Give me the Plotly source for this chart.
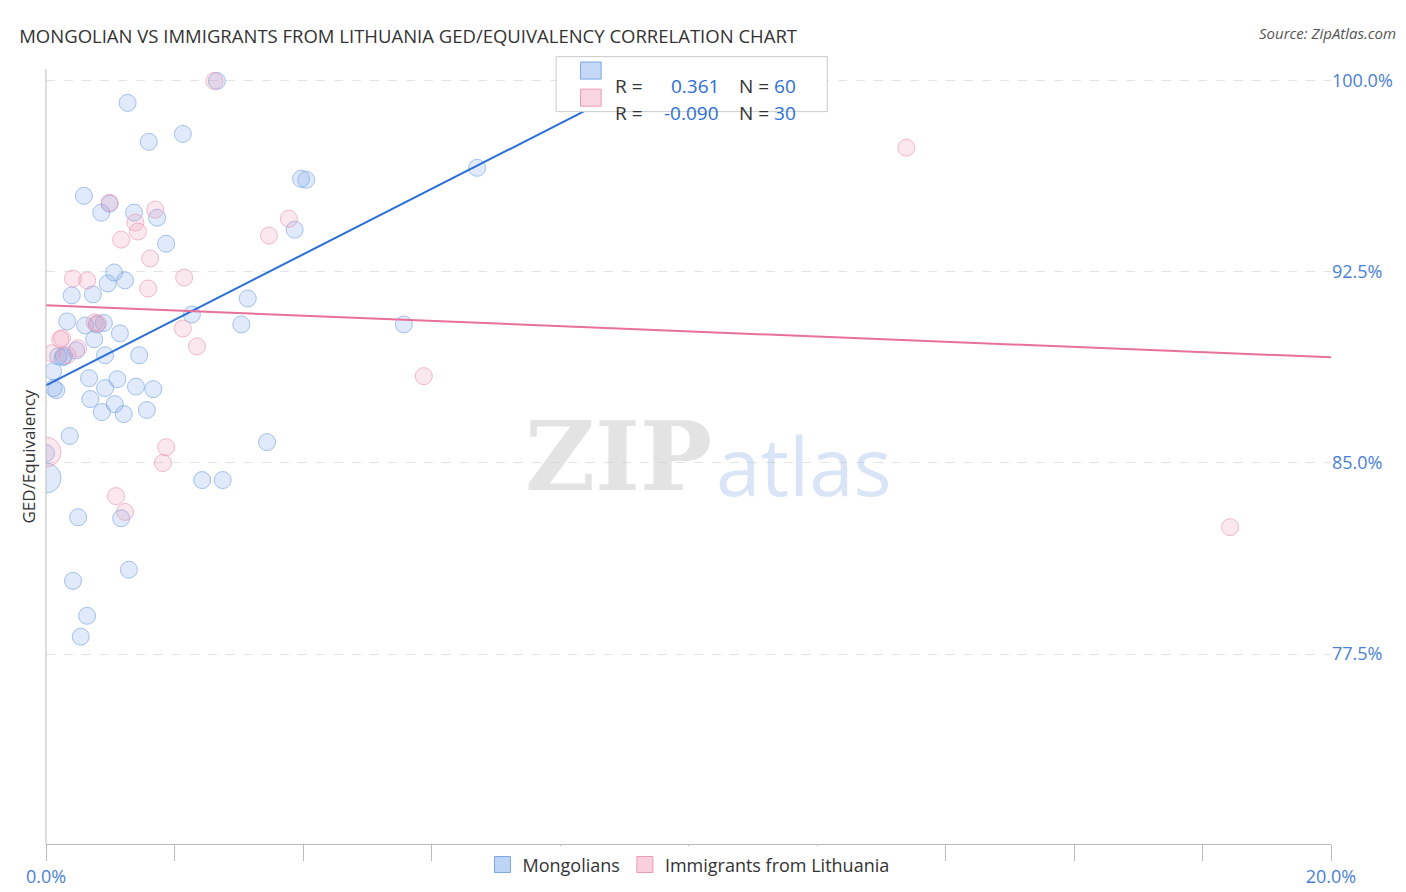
import plotly.graph_objects as go

# Mongolians (x = %, y = %)
mong_x = [1.27, 1.6, 2.13, 0.59, 0.99, 0.86, 1.37, 1.73, 1.87, 3.97, 4.05, 3.87, 6.71, 2.66,
          1.06, 1.23, 0.96, 0.40, 0.73, 3.14, 2.27, 3.04, 5.57, 0.33, 0.61, 0.79, 1.15, 0.75,
          0.19, 0.26, 0.47, 0.92, 1.45, 0.11, 0.67, 1.11, 0.12, 0.16, 0.92, 1.67, 0.69, 1.07,
          0.87, 1.21, 1.57, 0.37, 3.44, 0.0, 2.43, 2.75, 0.50, 1.17, 0.42, 1.29, 0.64, 0.54,
          0.0, 0.28, 0.9, 1.4]
mong_y = [99.14, 97.61, 97.92, 95.49, 95.18, 94.83, 94.83, 94.63, 93.61, 96.16, 96.12, 94.16,
          96.59, 100.0, 92.48, 92.17, 92.05, 91.58, 91.62, 91.46, 90.83, 90.44, 90.44, 90.56,
          90.40, 90.44, 90.09, 89.86, 89.19, 89.15, 89.42, 89.23, 89.23, 88.60, 88.33, 88.29,
          87.94, 87.86, 87.94, 87.90, 87.51, 87.31, 87.0, 86.92, 87.08, 86.06, 85.82, 84.41,
          84.33, 84.33, 82.87, 82.83, 80.37, 80.81, 79.00, 78.18, 85.39, 89.2, 90.5, 88.0]
mong_s = [17]*47 + [30] + [17]*12

# Immigrants from Lithuania
lith_x = [2.62, 13.39, 0.99, 1.70, 3.78, 1.39, 1.43, 1.17, 3.47, 1.62, 0.42, 0.64, 2.15,
          1.59, 2.13, 0.81, 0.25, 2.35, 0.50, 0.09, 0.33, 5.88, 0.0, 1.87, 1.82, 1.09,
          1.23, 18.43, 0.76, 0.22]
lith_y = [100.0, 97.38, 95.22, 94.95, 94.59, 94.44, 94.09, 93.77, 93.93, 93.03, 92.24, 92.17,
          92.28, 91.85, 90.28, 90.48, 89.90, 89.58, 89.50, 89.31, 89.23, 88.41, 85.43, 85.62,
          85.00, 83.70, 83.08, 82.48, 90.52, 89.86]
lith_s = [17]*22 + [30] + [17]*7

blue_line_x = [0.0, 8.6]
blue_line_y = [88.05, 99.1]
pink_line_x = [0.0, 20.0]
pink_line_y = [91.19, 89.15]

y_ticks = [77.5, 85.0, 92.5, 100.0]
y_labels = ["77.5%", "85.0%", "92.5%", "100.0%"]

BLUE = "#2b6fd6"
PINK = "#e8709a"
TICKC = "#4a7fd6"

fig = go.Figure()
fig.add_trace(go.Scatter(x=mong_x, y=mong_y, mode="markers", showlegend=False,
                         marker=dict(size=mong_s, color="rgba(110,160,235,0.3)",
                                     line=dict(color="#7aa6e6", width=1))))
fig.add_trace(go.Scatter(x=lith_x, y=lith_y, mode="markers", showlegend=False,
                         marker=dict(size=lith_s, color="rgba(240,150,180,0.3)",
                                     line=dict(color="#eb9ab5", width=1))))
fig.add_trace(go.Scatter(x=blue_line_x, y=blue_line_y, mode="lines", showlegend=False,
                         line=dict(color=BLUE, width=2)))
fig.add_trace(go.Scatter(x=pink_line_x, y=pink_line_y, mode="lines", showlegend=False,
                         line=dict(color=PINK, width=2)))
# legend entries (square swatches)
fig.add_trace(go.Scatter(x=[None], y=[None], mode="markers", name="Mongolians",
                         marker=dict(symbol="square", size=20, color="rgba(110,160,235,0.45)",
                                     line=dict(color="#7aa6e6", width=1))))
fig.add_trace(go.Scatter(x=[None], y=[None], mode="markers", name="Immigrants from Lithuania",
                         marker=dict(symbol="square", size=20, color="rgba(240,150,180,0.45)",
                                     line=dict(color="#eb9ab5", width=1))))

fig.update_layout(
    width=1406, height=892, plot_bgcolor="white", paper_bgcolor="white",
    margin=dict(l=38, r=83, t=61, b=44),
    font=dict(family="Open Sans, Arial, sans-serif"),
    showlegend=True,
    legend=dict(orientation="h", x=0.5, xanchor="center", y=-0.003, yanchor="top",
                font=dict(size=18, color="#333")),
    title=dict(text="MONGOLIAN VS IMMIGRANTS FROM LITHUANIA GED/EQUIVALENCY CORRELATION CHART",
               x=0.008, xanchor="left", y=0.975, font=dict(size=18.5, color="#333")),
)
fig.update_xaxes(range=[0, 20.0], showgrid=False, zeroline=False,
                 showline=True, linecolor="#bbb",
                 tickvals=[0, 2, 4, 6, 8, 10, 12, 14, 16, 18, 20],
                 ticktext=["0.0%"] + [""] * 9 + ["20.0%"],
                 ticks="outside", ticklen=16, tickcolor="#bbb",
                 tickfont=dict(size=18, color=TICKC))
fig.update_yaxes(range=[70.04, 100.47], side="right", showgrid=True, gridcolor="#e4e4e4",
                 griddash="dash", zeroline=False, showline=False,
                 tickvals=y_ticks, ticktext=y_labels,
                 tickfont=dict(size=18, color=TICKC))
fig.add_shape(type="line", xref="paper", yref="paper", x0=0, x1=0, y0=0, y1=1,
              line=dict(color="#bbb", width=1))

fig.add_annotation(text="GED/Equivalency", xref="paper", yref="paper", x=-0.014, y=0.5,
                   xanchor="center", textangle=-90, showarrow=False,
                   font=dict(size=17, color="#333"))
fig.add_annotation(text="Source: ZipAtlas.com", xref="paper", yref="paper", x=1.052, y=1.062,
                   xanchor="right", showarrow=False,
                   font=dict(size=15, color="#555", style="italic"))
fig.add_annotation(text="<b>ZIP</b>", xref="paper", yref="paper", x=0.52, y=0.50,
                   xanchor="right", showarrow=False,
                   font=dict(size=96, color="rgba(200,200,200,0.5)", family="DejaVu Serif"))
fig.add_annotation(text="atlas", xref="paper", yref="paper", x=0.52, y=0.49,
                   xanchor="left", showarrow=False,
                   font=dict(size=80, color="rgba(160,190,235,0.4)"))

# top legend box
fig.add_shape(type="rect", xref="paper", yref="paper", x0=0.397, x1=0.608, y0=0.945, y1=1.016,
              line=dict(color="#ccc", width=1), fillcolor="white", layer="above")
fig.add_shape(type="rect", xref="paper", yref="paper", x0=0.416, x1=0.432, y0=0.987, y1=1.009,
              line=dict(color="#7aa6e6", width=1), fillcolor="rgba(110,160,235,0.4)", layer="above")
fig.add_shape(type="rect", xref="paper", yref="paper", x0=0.416, x1=0.432, y0=0.952, y1=0.974,
              line=dict(color="#eb9ab5", width=1), fillcolor="rgba(240,150,180,0.4)", layer="above")
for yy, lbl, rv, nv in [(0.998, "R =", "0.361", "60"), (0.963, "R =", "-0.090", "30")]:
    fig.add_annotation(text=lbl, xref="paper", yref="paper", x=0.441, y=yy, xanchor="left",
                       showarrow=False, font=dict(size=19, color="#333"))
    fig.add_annotation(text=rv, xref="paper", yref="paper", x=0.525, y=yy, xanchor="right",
                       showarrow=False, font=dict(size=19, color=BLUE))
    fig.add_annotation(text="N = <span style='color:#2b6fd6'>%s</span>" % nv, xref="paper",
                       yref="paper", x=0.538, y=yy, xanchor="left",
                       showarrow=False, font=dict(size=19, color="#333"))

fig.write_html("out.html")
